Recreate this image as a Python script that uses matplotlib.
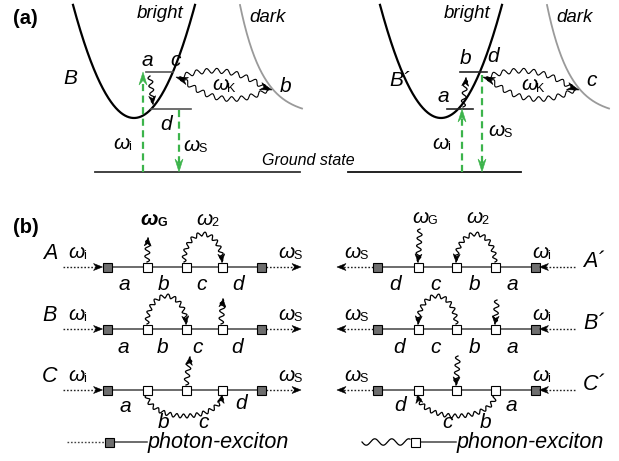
import numpy as np
import matplotlib
matplotlib.use("Agg")
import matplotlib.pyplot as plt
from matplotlib.patches import Polygon, Rectangle

# panel (a): names of the two energy schemes and their level labels
SCHEME_NAMES = ["B", "B´"]
LEVELS_LEFT = ["a", "c", "d", "b"]
LEVELS_RIGHT = ["b", "d", "a", "c"]
BAND_NAMES = ["bright", "dark"]

# panel (b): diagram rows and state labels
ROWS_LEFT = ["A", "B", "C"]
ROWS_RIGHT = ["A´", "B´", "C´"]
STATES_LEFT = ["a", "b", "c", "d"]
STATES_RIGHT = ["d", "c", "b", "a"]
LEGEND_TEXT = ["photon-exciton", "phonon-exciton"]

W, H = 619, 461
FONT = "Liberation Sans"
GREEN = "#3cb44b"
GREY = "#9a9a9a"

fig = plt.figure(figsize=(W / 100, H / 100), dpi=100)
ax = fig.add_axes([0, 0, 1, 1])
ax.set_xlim(0, W)
ax.set_ylim(H, 0)
ax.axis("off")


def txt(x, y, s, size=15, style="italic", weight="normal", ha="center", color="k"):
    ax.text(x, y, s, fontsize=size, fontstyle=style, fontweight=weight,
            ha=ha, va="center", family=FONT, color=color)


def omega(x, y, sub, size=15, bold=False):
    w = "bold" if bold else "normal"
    ax.text(x, y, "ω", fontsize=size, fontstyle="italic", fontweight=w,
            ha="left", va="center", family=FONT)
    dx = size * (1.2 if bold else 1.0)
    ax.text(x + dx, y + 3.5, sub, fontsize=size * 0.6, fontweight=w,
            ha="left", va="center", family=FONT)


def head(x, y, dx, dy, color="k", length=8, width=7, notch=0.3):
    d = np.hypot(dx, dy)
    ux, uy = dx / d, dy / d
    nx, ny = -uy, ux
    bx, by = x - ux * length, y - uy * length
    mx, my = x - ux * length * (1 - notch), y - uy * length * (1 - notch)
    pts = [(x, y), (bx + nx * width / 2, by + ny * width / 2), (mx, my),
           (bx - nx * width / 2, by - ny * width / 2)]
    ax.add_patch(Polygon(pts, closed=True, fc=color, ec=color, lw=0.4, zorder=6))


def wavy(xs, ys, amp=2.2, wl=7.0, taper_end=True, taper_start=False,
         color="k", lw=0.9):
    s = np.concatenate([[0], np.cumsum(np.hypot(np.diff(xs), np.diff(ys)))])
    tx, ty = np.gradient(xs, s), np.gradient(ys, s)
    n = np.hypot(tx, ty)
    nx, ny = -ty / n, tx / n
    env = np.ones_like(s)
    if taper_end:
        env *= np.clip((s[-1] - s) / 4, 0, 1)
    if taper_start:
        env *= np.clip(s / 3, 0, 1)
    off = amp * np.sin(2 * np.pi * s / wl) * env
    ax.plot(xs + nx * off, ys + ny * off, color=color, lw=lw, zorder=4)


def straight(x0, y0, x1, y1, n=120):
    return np.linspace(x0, x1, n), np.linspace(y0, y1, n)


def wavy_arrow(x0, y0, x1, y1, amp=2.4, wl=7.5):
    xs, ys = straight(x0, y0, x1, y1)
    wavy(xs, ys, amp=amp, wl=wl)
    head(x1, y1, x1 - x0, y1 - y0)


def bezier(p0, p1, p2, n=200):
    t = np.linspace(0, 1, n)[:, None]
    p = (1 - t) ** 2 * np.array(p0) + 2 * t * (1 - t) * np.array(p1) + t ** 2 * np.array(p2)
    return p[:, 0], p[:, 1]


def lens(p_left, p_right, up=-24, down=30):
    # two wavy edges between the bright and dark valleys
    (x0, y0), (x1, y1) = p_left, p_right
    dx, dy = x1 - x0, y1 - y0
    d = np.hypot(dx, dy)
    nx, ny = -dy / d, dx / d
    mx, my = (x0 + x1) / 2, (y0 + y1) / 2
    for off in (up, down):
        xs, ys = bezier((x0 + 4, y0), (mx + nx * off, my + ny * off), (x1 - 4, y1))
        wavy(xs, ys, amp=2.4, wl=10.0, taper_end=True, taper_start=True, lw=0.8)
    head(x0, y0, -dx - 0.35 * d, -dy - 0.35 * d, length=12, width=7.5)
    head(x1, y1, dx + 0.3 * d, dy + 0.3 * d, length=12, width=7.5)


def green_arrow(x, y0, y1):
    ax.plot([x, x], [y0, y1 - np.sign(y1 - y0) * 6], color=GREEN, lw=1.6,
            ls=(0, (3.2, 2.0)), zorder=3)
    head(x, y1, 0, y1 - y0, color=GREEN, length=13, width=8, notch=0.35)


# ---------------- panel (a) ----------------
def scheme(ox):
    xb = np.linspace(73, 195, 300)
    ax.plot(xb + ox, 118 - 0.0304 * (xb - 134) ** 2, color="k", lw=1.6)
    xd = np.linspace(240, 302, 200)
    ax.plot(xd + ox, 116 - 111 * np.exp(-(xd - 240) / 23), color=GREY, lw=1.3)
    txt(160 + ox, 14, BAND_NAMES[0], size=13.5)
    txt(268 + ox, 17, BAND_NAMES[1], size=13.5)
    lens((176 + ox, 77), (272 + ox, 90))


scheme(0)
scheme(307)

# ground state lines
ax.plot([95, 300], [172, 172], color="#333333", lw=1.3)
ax.plot([348, 521], [172, 172], color="#111111", lw=1.3)
txt(262, 160, "Ground state", size=11.5, ha="left")

# left scheme
ax.plot([146, 173], [72, 72], color="#555555", lw=1.2)
ax.plot([151, 191], [109, 109], color="#555555", lw=1.2)
green_arrow(143, 172, 72)
green_arrow(179, 110, 172)
wavy_arrow(150, 76, 153, 104, amp=2.2, wl=8)
txt(147, 60, LEVELS_LEFT[0])
txt(176, 60, LEVELS_LEFT[1])
txt(166, 124, LEVELS_LEFT[2])
txt(286, 87, LEVELS_LEFT[3])
txt(70, 78, SCHEME_NAMES[0])
omega(212, 85, "K")
omega(113, 143, "i")
omega(183, 145, "S")

# right scheme
ax.plot([460, 487], [72, 72], color="#222222", lw=1.2)
ax.plot([447, 473], [109, 109], color="#222222", lw=1.2)
green_arrow(462, 172, 109)
green_arrow(482, 75, 172)
wavy_arrow(463, 107, 466, 78, amp=2.2, wl=8)
txt(466, 59, LEVELS_RIGHT[0])
txt(493, 57, LEVELS_RIGHT[1])
txt(443, 96, LEVELS_RIGHT[2])
txt(592, 80, LEVELS_RIGHT[3])
txt(400, 80, SCHEME_NAMES[1])
omega(521, 85, "K")
omega(432, 143, "i")
omega(488, 130, "S")

txt(13, 18, "(a)", size=14.5, style="normal", weight="bold", ha="left")

# ---------------- panel (b) ----------------
txt(13, 227, "(b)", size=14.5, style="normal", weight="bold", ha="left")

ROW_Y = [267, 329, 390]
NODES_L = [107, 147, 186, 222, 261]
NODES_R = [535, 495, 456, 418, 377]
SQ = 9


def square(x, y, filled):
    fc = "#6e6e6e" if filled else "white"
    ax.add_patch(Rectangle((x - SQ / 2, y - SQ / 2), SQ, SQ, fc=fc, ec="k",
                           lw=0.8, zorder=5))


def dotted_arrow(x0, x1, y):
    ax.plot([x0, x1 - np.sign(x1 - x0) * 5], [y, y], color="#222222", lw=1.0,
            ls=(0, (1.2, 1.3)), zorder=3)
    head(x1, y, x1 - x0, 0, length=9, width=7)


def chain(nodes, y, left_to_right):
    ax.plot([nodes[0], nodes[-1]], [y, y], color="#444444", lw=1.1, zorder=2)
    for i, x in enumerate(nodes):
        square(x, y, i in (0, len(nodes) - 1))
    if left_to_right:
        dotted_arrow(63, nodes[0] - SQ / 2, y)
        dotted_arrow(nodes[-1] + SQ / 2, 301, y)
    else:
        dotted_arrow(575, nodes[0] + SQ / 2, y)
        dotted_arrow(nodes[-1] - SQ / 2, 337, y)


def loop(x1, x2, y, h):
    t = np.linspace(0, np.pi, 240)
    xm, r = (x1 + x2) / 2, (x2 - x1) / 2
    xs = xm - r * np.cos(t)
    ys = y - h * np.sin(t)
    wavy(xs, ys, amp=2.0, wl=6.8)
    head(xs[-1], ys[-1], xs[-1] - xs[-8] + 0.15 * np.sign(r), ys[-1] - ys[-8],
         length=8, width=7)


for k, y in enumerate(ROW_Y):
    chain(NODES_L, y, True)
    chain(NODES_R, y, False)
    txt(50, y - 14, ROWS_LEFT[k], size=15.5)
    txt(594, y - 6, ROWS_RIGHT[k], size=15.5)
    omega(68, y - 15, "i")
    omega(278, y - 15, "S")
    omega(344, y - 15, "S")
    omega(532, y - 15, "i")

# row A / A´
y = ROW_Y[0]
wavy_arrow(147, y - 5, 148, 238)
loop(184, 222, y - 5, 28)
omega(140, 219, "G", bold=True)
omega(196, 219, "2")
wavy_arrow(420, 229, 418, y - 5)
loop(495, 456, y - 5, 28)
omega(412, 217, "G")
omega(466, 217, "2")

# row B / B´
y = ROW_Y[1]
loop(147, 186, y - 5, 28)
wavy_arrow(221, y - 5, 223, 299)
loop(456, 418, y - 5, 28)
wavy_arrow(497, 300, 495, y - 5)

# row C / C´
y = ROW_Y[2]
wavy_arrow(186, y - 5, 190, 357)
loop(147, 222, y + 5, -21)
wavy_arrow(458, 356, 456, y - 5)
loop(495, 418, y + 5, -21)

for k, lab in enumerate(STATES_LEFT):
    xl = [124, 164, 202, 238][k]
    txt(xl, ROW_Y[0] + 17, lab)
    txt(xl - (4 if k == 2 else 1), ROW_Y[1] + 18, lab)
for k, lab in enumerate(STATES_RIGHT):
    xr = [395, 436, 475, 512][k]
    txt(xr, ROW_Y[0] + 17, lab)
    txt(xr + (4 if k == 0 else 0), ROW_Y[1] + 18, lab)

yc = ROW_Y[2]
txt(125, yc + 16, STATES_LEFT[0])
txt(241, yc + 13, STATES_LEFT[3])
txt(164, yc + 32, STATES_LEFT[1])
txt(204, yc + 32, STATES_LEFT[2])
txt(400, yc + 15, STATES_RIGHT[0])
txt(511, yc + 15, STATES_RIGHT[3])
txt(448, yc + 32, STATES_RIGHT[1])
txt(486, yc + 32, STATES_RIGHT[2])

# legend
yl = 442
ax.plot([67, 104], [yl, yl], color="#444444", lw=1.0, ls=(0, (1.2, 1.3)))
ax.plot([109, 147], [yl, yl], color="#444444", lw=1.1)
square(109, yl, True)
txt(148, yl, LEGEND_TEXT[0], size=15.5, ha="left")
xs = np.linspace(362, 410, 200)
ax.plot(xs, yl + 3.2 * np.sin(2 * np.pi * (xs - 362) / 17), color="k", lw=0.9)
ax.plot([415, 456], [yl, yl], color="#444444", lw=1.1)
square(415, yl, False)
txt(457, yl, LEGEND_TEXT[1], size=15.5, ha="left")

fig.savefig("out.png", dpi=100)
